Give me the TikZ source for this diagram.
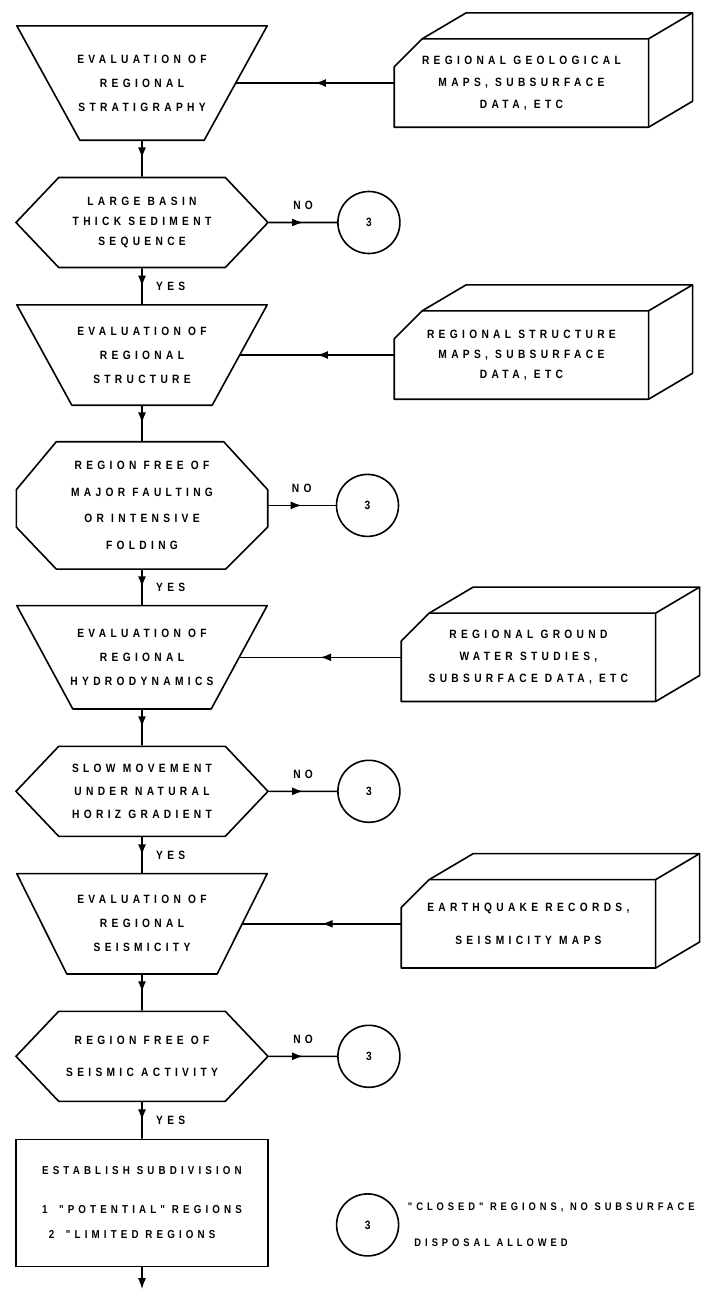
\documentclass[tikz,border=0pt]{standalone}
\usepackage{fontspec}
\newfontfamily\flowfont{Liberation Sans}[LetterSpace=36, FakeStretch=0.85]
\usepackage{tikz}
\usetikzlibrary{shapes.symbols, arrows.meta, positioning, decorations.markings}

\newcommand{\flowtext}[2][12]{\flowfont\bfseries\fontsize{#1}{#2}\selectfont}

\begin{document}
\begin{tikzpicture}[
    x=1pt, y=1pt,
    node distance=36.5pt and 127pt,
    every node/.style={font=\flowtext{24}, align=center},
    evalbox/.style={rectangle, minimum width=250pt, inner sep=0pt},
    testbox/.style={signal, signal to=east and west, signal pointer angle=93, draw, line width=1.6pt, minimum width=252pt, minimum height=90pt, inner sep=0pt},
    octbox/.style={rectangle, minimum width=251pt, minimum height=127pt, inner sep=0pt},
    databox/.style={rectangle, minimum width=254pt, minimum height=88pt, inner sep=0pt},
    resultbox/.style={rectangle, draw, line width=1.6pt, minimum width=252pt, minimum height=127pt, align=left, inner sep=0pt},
    endcircle/.style={circle, draw, line width=1.6pt, minimum size=62pt, inner sep=0pt},
    outline/.style={line width=1.6pt, line join=round},
    flow/.style={line width=1.6pt, decoration={markings, mark=at position 0.5 with {\arrow{Latex[length=11pt,width=8pt]}}}, postaction={decorate}},
]
\useasboundingbox (0,0) rectangle (703,-1293);

% main column
\node[evalbox, minimum height=114pt] (strat) at (142,-83) {EVALUATION OF\\REGIONAL\\STRATIGRAPHY};
\node[testbox, below=of strat, font=\flowtext{20}] (basin) {LARGE BASIN\\THICK SEDIMENT\\SEQUENCE};
\node[evalbox, minimum height=100pt, below=of basin] (struct) {EVALUATION OF\\REGIONAL\\STRUCTURE};
\node[octbox, below=of struct, font=\flowtext{26.5}] (fault) {REGION FREE OF\\MAJOR FAULTING\\OR INTENSIVE\\FOLDING};
\node[evalbox, minimum height=103pt, below=of fault] (hydro) {EVALUATION OF\\REGIONAL\\HYDRODYNAMICS};
\node[testbox, below=of hydro, font=\flowtext{23}] (gradient) {SLOW MOVEMENT\\UNDER NATURAL\\HORIZ GRADIENT};
\node[evalbox, minimum height=100pt, below=of gradient] (seis) {EVALUATION OF\\REGIONAL\\SEISMICITY};
\node[testbox, below=of seis, font=\flowtext{32}] (quiet) {REGION FREE OF\\SEISMIC ACTIVITY};
\node[resultbox, below=of quiet, font={\flowtext[11.5]{25}}] (subdiv) {ESTABLISH SUBDIVISION\\[14pt]1\quad "POTENTIAL" REGIONS\\\ 2\quad "LIMITED REGIONS};
\coordinate[below=22pt of subdiv] (exit);

% trapezoid and octagon outlines
\foreach \t/\inset in {strat/63, struct/55, hydro/56, seis/50} {
  \draw[outline] (\t.north west) -- (\t.north east) -- ([xshift=-\inset]\t.south east) -- ([xshift=\inset]\t.south west) -- cycle;
  \coordinate (\t-e) at ([xshift={-0.5*\inset}]\t.east);
}
\draw[outline] ([xshift=40pt]fault.north west) -- ([xshift=-44pt]fault.north east) -- ([yshift=-48pt]fault.north east)
  -- ([yshift=42pt]fault.south east) -- ([xshift=-42pt]fault.south east) -- ([xshift=40pt]fault.south west)
  -- ([yshift=42pt]fault.south west) -- ([yshift=-48pt]fault.north west) -- cycle;

% data sources
\node[databox, right=of strat, font=\flowtext{22}] (geomaps) {REGIONAL GEOLOGICAL\\MAPS, SUBSURFACE\\DATA, ETC};
\node[databox, right=of struct, font=\flowtext{20}] (structmaps) {REGIONAL STRUCTURE\\MAPS, SUBSURFACE\\DATA, ETC};
\node[databox, right=134pt of hydro, font=\flowtext{22}] (water) {REGIONAL GROUND\\WATER STUDIES,\\SUBSURFACE DATA, ETC};
\node[databox, right=134pt of seis, font=\flowtext{33}] (quakes) {EARTHQUAKE RECORDS,\\SEISMICITY MAPS};
\foreach \b in {geomaps, structmaps, water, quakes} {
  \draw[outline] (\b.south west) -- ([yshift=-28pt]\b.north west) -- ([xshift=28pt]\b.north west) -- (\b.north east) -- (\b.south east) -- cycle;
  \draw[outline] ([xshift=28pt]\b.north west) -- ++(44,26) -- ([shift={(44,26)}]\b.north east) -- (\b.north east);
  \draw[outline] ([shift={(44,26)}]\b.north east) -- ([shift={(44,26)}]\b.south east) -- (\b.south east);
}

% closed regions
\node[endcircle, right=68pt of basin] (closed1) {3};
\node[endcircle, right=68pt of fault] (closed2) {3};
\node[endcircle, right=68pt of gradient] (closed3) {3};
\node[endcircle, right=68pt of quiet] (closed4) {3};
\node[endcircle, right=67pt of subdiv, yshift=-22pt] (key) {3};
\node[right=5pt of key, align=left, font={\flowtext[11]{36}}] (keytext) {"CLOSED" REGIONS, NO SUBSURFACE\\\ DISPOSAL ALLOWED};

\draw[flow] (strat) -- (basin);
\draw[flow] (basin) -- node[right=10pt] {YES} (struct);
\draw[flow] (struct) -- (fault);
\draw[flow] (fault) -- node[right=10pt] {YES} (hydro);
\draw[flow] (hydro) -- (gradient);
\draw[flow] (gradient) -- node[right=10pt] {YES} (seis);
\draw[flow] (seis) -- (quiet);
\draw[flow] (quiet) -- node[right=10pt] {YES} (subdiv);
\draw[line width=1.6pt, -{Latex[length=11pt,width=8pt]}] (subdiv) -- (exit);

\draw[flow] (basin) -- node[above=9pt] {NO} (closed1);
\draw[flow] (fault) -- node[above=9pt] {NO} (closed2);
\draw[flow] (gradient) -- node[above=9pt] {NO} (closed3);
\draw[flow] (quiet) -- node[above=9pt] {NO} (closed4);

\draw[flow] (geomaps) -- (strat-e);
\draw[flow] (structmaps) -- (struct-e);
\draw[flow] (water) -- (hydro-e);
\draw[flow] (quakes) -- (seis-e);
\end{tikzpicture}
\end{document}
